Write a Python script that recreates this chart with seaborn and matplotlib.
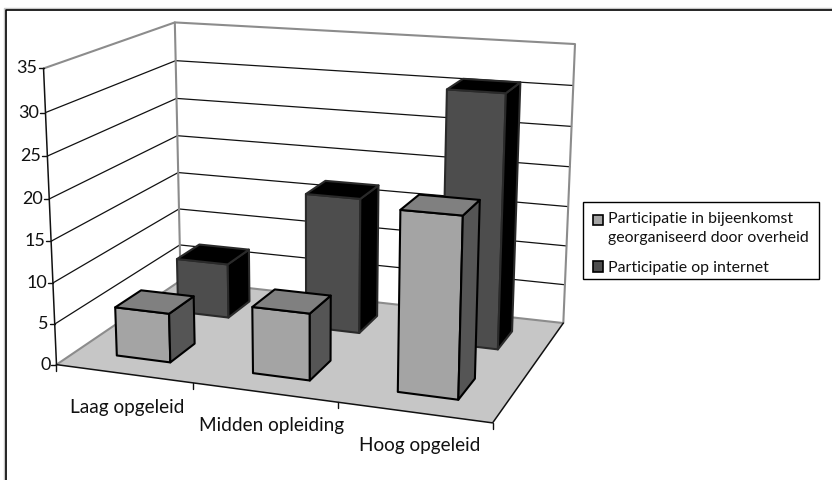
import numpy as np
import matplotlib
matplotlib.use('Agg')
import matplotlib.pyplot as plt
from matplotlib.legend_handler import HandlerPatch
from matplotlib.patches import Patch, Rectangle
import seaborn as sns

categories = ['Laag opgeleid', 'Midden opleiding', 'Hoog opgeleid']
series_names = ['Participatie in bijeenkomst\ngeorganiseerd door overheid',
                'Participatie op internet']
bijeenkomst = [6, 8, 21]
internet = [7, 17, 31]
y_ticks = [0, 5, 10, 15, 20, 25, 30, 35]

Y_MAX = 35
N_CAT = len(categories)
N_SER = len(series_names)

# camera: corners of the chart box (category, series, value) -> picture pixel
box_corners = [(0, 0, 0), (0, 0, Y_MAX), (0, N_SER, 0), (0, N_SER, Y_MAX),
               (N_CAT, N_SER, 0), (N_CAT, N_SER, Y_MAX), (N_CAT, 0, 0)]
box_pixels = [(56, 364), (43.7, 69), (181, 281), (174.7, 22),
              (563, 323), (575, 44), (493, 423)]

rows, rhs = [], []
for (a, b, c), (px, py) in zip(box_corners, box_pixels):
    rows.append([a, b, c, 1, 0, 0, 0, 0, -px * a, -px * b, -px * c])
    rows.append([0, 0, 0, 0, a, b, c, 1, -py * a, -py * b, -py * c])
    rhs += [px, py]
cam = np.append(np.linalg.lstsq(np.array(rows, float), np.array(rhs, float), rcond=None)[0], 1).reshape(3, 4)


def project(a, b, c):
    x, y, w = cam @ np.array([a, b, c, 1.0])
    return x / w, y / w


sns.set_theme(style='white')
plt.rcParams['font.family'] = ['Lato', 'DejaVu Sans']

fig = plt.figure(figsize=(8.32, 4.8), dpi=100)
ax = fig.add_axes([0, 0, 1, 1])
ax.set_xlim(0, 832)
ax.set_ylim(480, 0)
ax.axis('off')

# picture frame (only left and top show)
ax.plot([4, 4, 832], [480, 8, 8], color='#c8c8c8', lw=1)
ax.plot([5.5, 5.5, 832], [480, 9.5, 9.5], color='black', lw=1.2)

wall_grey = '#8c8c8c'


def face(pts, color, edge='black', lw=1.5, z=1):
    ax.fill(*zip(*pts), facecolor=color, edgecolor=edge, lw=lw, zorder=z, joinstyle='round')


# floor
floor = [project(0, 0, 0), project(N_CAT, 0, 0), project(N_CAT, N_SER, 0), project(0, N_SER, 0)]
face(floor, '#c6c6c6', edge='none', lw=0, z=1)

# gridlines on both walls
for v in y_ticks[1:-1]:
    line = [project(0, 0, v), project(0, N_SER, v), project(N_CAT, N_SER, v)]
    ax.plot(*zip(*line), color='#111111', lw=0.9, zorder=1)

# wall outlines
outline = [project(0, 0, 0), project(0, N_SER, 0), project(N_CAT, N_SER, 0),
           project(N_CAT, N_SER, Y_MAX), project(0, N_SER, Y_MAX), project(0, 0, Y_MAX)]
ax.plot(*zip(*outline), color=wall_grey, lw=1.5, zorder=2)
ax.plot(*zip(project(0, N_SER, 0), project(0, N_SER, Y_MAX)), color=wall_grey, lw=1.5, zorder=2)

# axes lines
ax.plot(*zip(project(0, 0, 0), project(0, 0, Y_MAX)), color='#111111', lw=1.1, zorder=3)
ax.plot(*zip(project(0, 0, 0), project(N_CAT, 0, 0), project(N_CAT, N_SER, 0)),
        color='#111111', lw=1.1, zorder=3)

for v in y_ticks:
    x, y = project(0, 0, v)
    ax.plot([x - 5, x], [y, y], color='#111111', lw=1, zorder=3)
    ax.text(x - 6, y, str(v), ha='right', va='center', fontsize=13, color='#111111')

for i in range(N_CAT + 1):
    x, y = project(i, 0, 0)
    ax.plot([x, x], [y, y + 6], color='#111111', lw=1, zorder=3)

label_offsets = [(4, 34), (7, 33), (6, 33)]
for i, name in enumerate(categories):
    x, y = project(i + 0.5, 0, 0)
    ox, oy = label_offsets[i]
    ax.text(x + ox, y + oy, name, ha='center', va='center', fontsize=13.7, color='#111111')

# bars, far series first
bar_colors = [('#a4a4a4', '#555555', '#808080'), ('#4d4d4d', '#000000', '#000000')]
edge_colors = ['black', '#2a2a2a']
z = 5
for s, values in reversed(list(enumerate([bijeenkomst, internet]))):
    for i, v in enumerate(values):
        u0, u1 = i + 0.3, i + 0.7
        d0, d1 = s + 0.3, s + 0.7
        front_c, side_c, top_c = bar_colors[s]
        face([project(u0, d0, 0), project(u1, d0, 0), project(u1, d0, v), project(u0, d0, v)],
             front_c, edge=edge_colors[s], z=z)
        face([project(u1, d0, 0), project(u1, d1, 0), project(u1, d1, v), project(u1, d0, v)],
             side_c, edge=edge_colors[s], z=z)
        face([project(u0, d0, v), project(u1, d0, v), project(u1, d1, v), project(u0, d1, v)],
             top_c, edge=edge_colors[s], z=z)
        z += 1


# first legend key sits level with the first of its two text lines
def raised_key(legend, orig_handle, xdescent, ydescent, width, height, fontsize):
    return Rectangle((-xdescent, -ydescent + 6), width, height)


# legend: box drawn separately, its side margins are wider than top and bottom
ax.add_patch(Rectangle((583, 202), 236, 77, facecolor='white', edgecolor='black', lw=1.0, zorder=29))
handles = [Patch(facecolor=bar_colors[k][0], edgecolor='black', lw=1.2) for k in range(N_SER)]
leg = ax.legend(handles, series_names, loc='upper left', bbox_to_anchor=(593 / 832, 1 - 212 / 480),
                fontsize=11.4, frameon=False, handlelength=0.62, handleheight=0.62,
                handletextpad=0.32, labelspacing=1.0, borderpad=0, borderaxespad=0,
                labelcolor='#111111', handler_map={handles[0]: HandlerPatch(patch_func=raised_key)})
for t in leg.get_texts():
    t.set_linespacing(1.47)
leg.set_zorder(30)

fig.savefig('out.png', dpi=100)
